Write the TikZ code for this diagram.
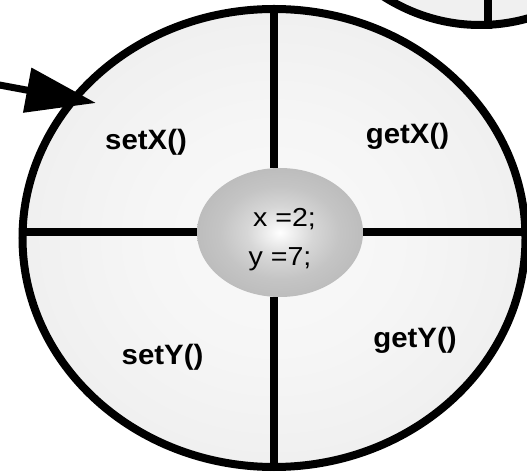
\documentclass[tikz,border=0pt]{standalone}
\usepackage{fontspec}
\setmainfont{Liberation Sans}
\usetikzlibrary{shapes.geometric,arrows.meta}
\pgfdeclareradialshading{coreshade}{\pgfpoint{0bp}{0bp}}{color(0bp)=(white);color(3bp)=(gray!10);color(10bp)=(gray!32);color(18bp)=(gray!46);color(25bp)=(gray!52);color(50bp)=(gray!58)}
\pgfdeclareradialshading{cellshade}{\pgfpoint{0bp}{0bp}}{color(0bp)=(gray!5);color(12bp)=(gray!7);color(25bp)=(gray!12);color(50bp)=(gray!14)}
\tikzset{
  outline/.style={draw=black, line width=8pt},
  divider/.style={draw=black, line width=8pt},
  method/.style={font=\fontsize{28}{30}\selectfont\bfseries, anchor=base, inner sep=0, xscale=1.05},
  state/.style={font=\fontsize{26}{28}\selectfont, anchor=base, inner sep=0, xscale=1.1},
}
\begin{document}
\begin{tikzpicture}[x=1pt,y=1pt]
\useasboundingbox (0,0) rectangle (527,471);
% neighbouring object (top right, cut off)
\node[outline, ellipse, fill=gray!12, minimum width=400pt, minimum height=460pt, inner sep=0] (other) at (480,676) {};
\coordinate (othertop) at (488,480);
\draw[divider] (other.south -| othertop) -- (othertop);
% main object
\node[outline, ellipse, shading=cellshade, minimum width=503pt, minimum height=458pt, inner sep=0] (cell) at (274,233) {};
\node[ellipse, shading=coreshade, minimum width=166pt, minimum height=129pt, inner sep=0] (core) at (280,238.5) {};
\draw[divider] (cell.north) -- (cell.north |- core.north);
\draw[divider] (cell.south) -- (cell.south |- core.south);
\draw[divider] (cell.west |- core.west) -- (core.west);
\draw[divider] (core.east) -- (cell.east |- core.east);
% labels
\node[method] (setx) at (146,321) {setX()};
\node[method] (getx) at (407.5,327) {getX()};
\node[method] (sety) at (162.5,106) {setY()};
\node[method] (gety) at (415,123) {getY()};
\node[state] (xval) at (284.5,244) {x =2;};
\node[state] (yval) at (280,205) {y =7;};
% incoming message arrow
\coordinate (src) at (-6,387);
\coordinate (tip) at (96,368);
\draw[line width=7pt, -{Triangle[length=70pt,width=44pt]}] (src) -- (tip);
\end{tikzpicture}
\end{document}
